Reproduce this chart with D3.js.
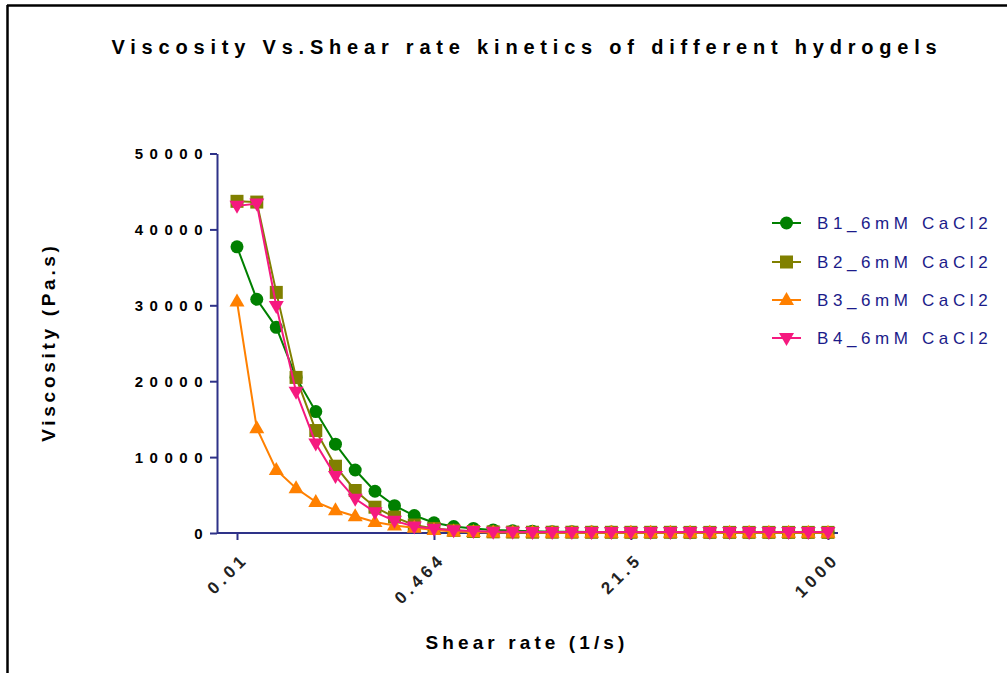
<!DOCTYPE html>
<html>
<head>
<meta charset="utf-8">
<script src="https://cdn.jsdelivr.net/npm/d3@7"></script>
<style>
html,body{margin:0;padding:0;background:#fff;}
svg{display:block;font-family:"Liberation Sans",Arial,sans-serif;}
</style>
</head>
<body>
<svg id="chart" width="1007" height="673"></svg>
<script>
const shearRate = [0.01,0.0147,0.0215,0.0316,0.0464,0.0681,0.1,0.147,0.215,0.316,0.464,0.681,1,1.47,2.15,3.16,4.64,6.81,10,14.7,21.5,31.6,46.4,68.1,100,147,215,316,464,681,1000];
const b1 = [37700,30800,27100,20500,16000,11700,8300,5500,3600,2300,1350,850,600,400,300,220,180,150,130,120,110,100,100,90,90,80,80,80,70,70,70];
const b2 = [43700,43600,31700,20500,13500,8800,5600,3400,2100,1050,600,350,200,150,120,100,100,100,90,90,90,90,90,80,80,80,80,80,80,80,80];
const b3 = [30500,13800,8300,5900,4100,3000,2200,1450,1000,700,380,200,120,80,60,50,40,40,30,30,30,30,30,30,30,30,30,30,30,30,30];
const b4 = [43100,43400,29900,18600,11800,7500,4500,2750,1600,850,550,350,250,180,150,130,120,120,120,120,120,120,120,120,120,120,120,120,120,120,120];
const seriesNames = ["B1_6mM CaCl2","B2_6mM CaCl2","B3_6mM CaCl2","B4_6mM CaCl2"];
const seriesColors = ["#008000","#808000","#ff8000","#f5197f"];
const seriesShapes = ["circle","square","triangleUp","triangleDown"];
const xTickValues = [0.01,0.464,21.5,1000];
const xTickLabels = ["0.01","0.464","21.5","1000"];
const yTickValues = [0,10000,20000,30000,40000,50000];
const titleText = "Viscosity Vs.Shear rate kinetics of different hydrogels";
const xLabel = "Shear rate (1/s)";
const yLabel = "Viscosity (Pa.s)";

const allSeries = [b1,b2,b3,b4];
const svg = d3.select("#chart");
const axisColor = "#2e3288";

// frame
svg.append("line").attr("x1",7).attr("x2",1007).attr("y1",5.5).attr("y2",5.5).attr("stroke","#000").attr("stroke-width",2.5);
svg.append("line").attr("x1",7.5).attr("x2",7.5).attr("y1",5).attr("y2",673).attr("stroke","#000").attr("stroke-width",2.5);

const x = d3.scaleLog().domain([0.01,1000]).range([237,828]);
const y = d3.scaleLinear().domain([0,50000]).range([533,153.5]);
const axisLeft = 217, axisRight = 838;

// title
svg.append("text").attr("x",527).attr("y",54).attr("text-anchor","middle")
  .attr("font-size",20).attr("font-weight","bold").attr("letter-spacing","5.8px")
  .attr("fill","#000").text(titleText);

// y axis
const gy = svg.append("g").attr("transform",`translate(${axisLeft},0)`)
  .call(d3.axisLeft(y).tickValues(yTickValues).tickSize(7).tickSizeOuter(0).tickFormat(d3.format("d")));
gy.select(".domain").attr("stroke",axisColor).attr("stroke-width",2);
gy.selectAll(".tick line").attr("stroke",axisColor).attr("stroke-width",2);
gy.selectAll(".tick text").attr("font-size",15).attr("font-weight","bold").attr("fill","#000")
  .attr("font-family","Liberation Sans, Arial, sans-serif").attr("letter-spacing","6.5px").attr("x",-8).attr("dy","0.36em");

// x axis
const gx = svg.append("g").attr("transform",`translate(0,533)`)
  .call(d3.axisBottom(x).tickValues(xTickValues).tickSize(7).tickSizeOuter(0).tickFormat((d,i)=>xTickLabels[i]));
gx.select(".domain").attr("d",`M${axisLeft},0H${axisRight}`).attr("stroke",axisColor).attr("stroke-width",2);
gx.selectAll(".tick line").attr("stroke",axisColor).attr("stroke-width",2);
gx.selectAll(".tick text").attr("font-size",17).attr("font-weight","bold").attr("fill","#222")
  .attr("font-family","Liberation Sans, Arial, sans-serif").attr("letter-spacing","4.2px")
  .attr("text-anchor","end").attr("y",0).attr("dy",0)
  .attr("transform","translate(12,27) rotate(-45)");

// axis labels
svg.append("text").attr("x",527).attr("y",649).attr("text-anchor","middle")
  .attr("font-size",19).attr("font-weight","bold").attr("letter-spacing","4.1px").attr("fill","#000").text(xLabel);
svg.append("text").attr("transform","translate(55,342) rotate(-90)").attr("text-anchor","middle")
  .attr("font-size",19).attr("font-weight","bold").attr("letter-spacing","3.7px").attr("fill","#000").text(yLabel);

function drawMarker(g, shape, cx, cy, color){
  if(shape==="circle"){
    g.append("circle").attr("cx",cx).attr("cy",cy).attr("r",6.5).attr("fill",color);
  } else if(shape==="square"){
    g.append("rect").attr("x",cx-6.5).attr("y",cy-6.5).attr("width",13).attr("height",13).attr("fill",color);
  } else if(shape==="triangleUp"){
    g.append("path").attr("d",`M${cx},${cy-8}L${cx+7.5},${cy+5}L${cx-7.5},${cy+5}Z`).attr("fill",color);
  } else {
    g.append("path").attr("d",`M${cx},${cy+8}L${cx+7.5},${cy-5}L${cx-7.5},${cy-5}Z`).attr("fill",color);
  }
}

const line = d3.line().x(d=>x(d[0])).y(d=>y(d[1]));
allSeries.forEach((vals,si)=>{
  const pts = shearRate.map((s,i)=>[s,vals[i]]);
  const g = svg.append("g");
  g.append("path").attr("d",line(pts)).attr("fill","none").attr("stroke",seriesColors[si]).attr("stroke-width",2);
  pts.forEach(p=>drawMarker(g, seriesShapes[si], x(p[0]), y(p[1]), seriesColors[si]));
});

// legend
const legendY = [223,262,300,338];
seriesNames.forEach((name,i)=>{
  const g = svg.append("g");
  g.append("line").attr("x1",772).attr("x2",801).attr("y1",legendY[i]).attr("y2",legendY[i])
    .attr("stroke",seriesColors[i]).attr("stroke-width",2);
  drawMarker(g, seriesShapes[i], 786.5, legendY[i], seriesColors[i]);
  g.append("text").attr("x",817).attr("y",legendY[i]+6).attr("font-size",17)
    .attr("letter-spacing","4.6px").attr("fill","#1b1b8a").text(name);
});
</script>
</body>
</html>
